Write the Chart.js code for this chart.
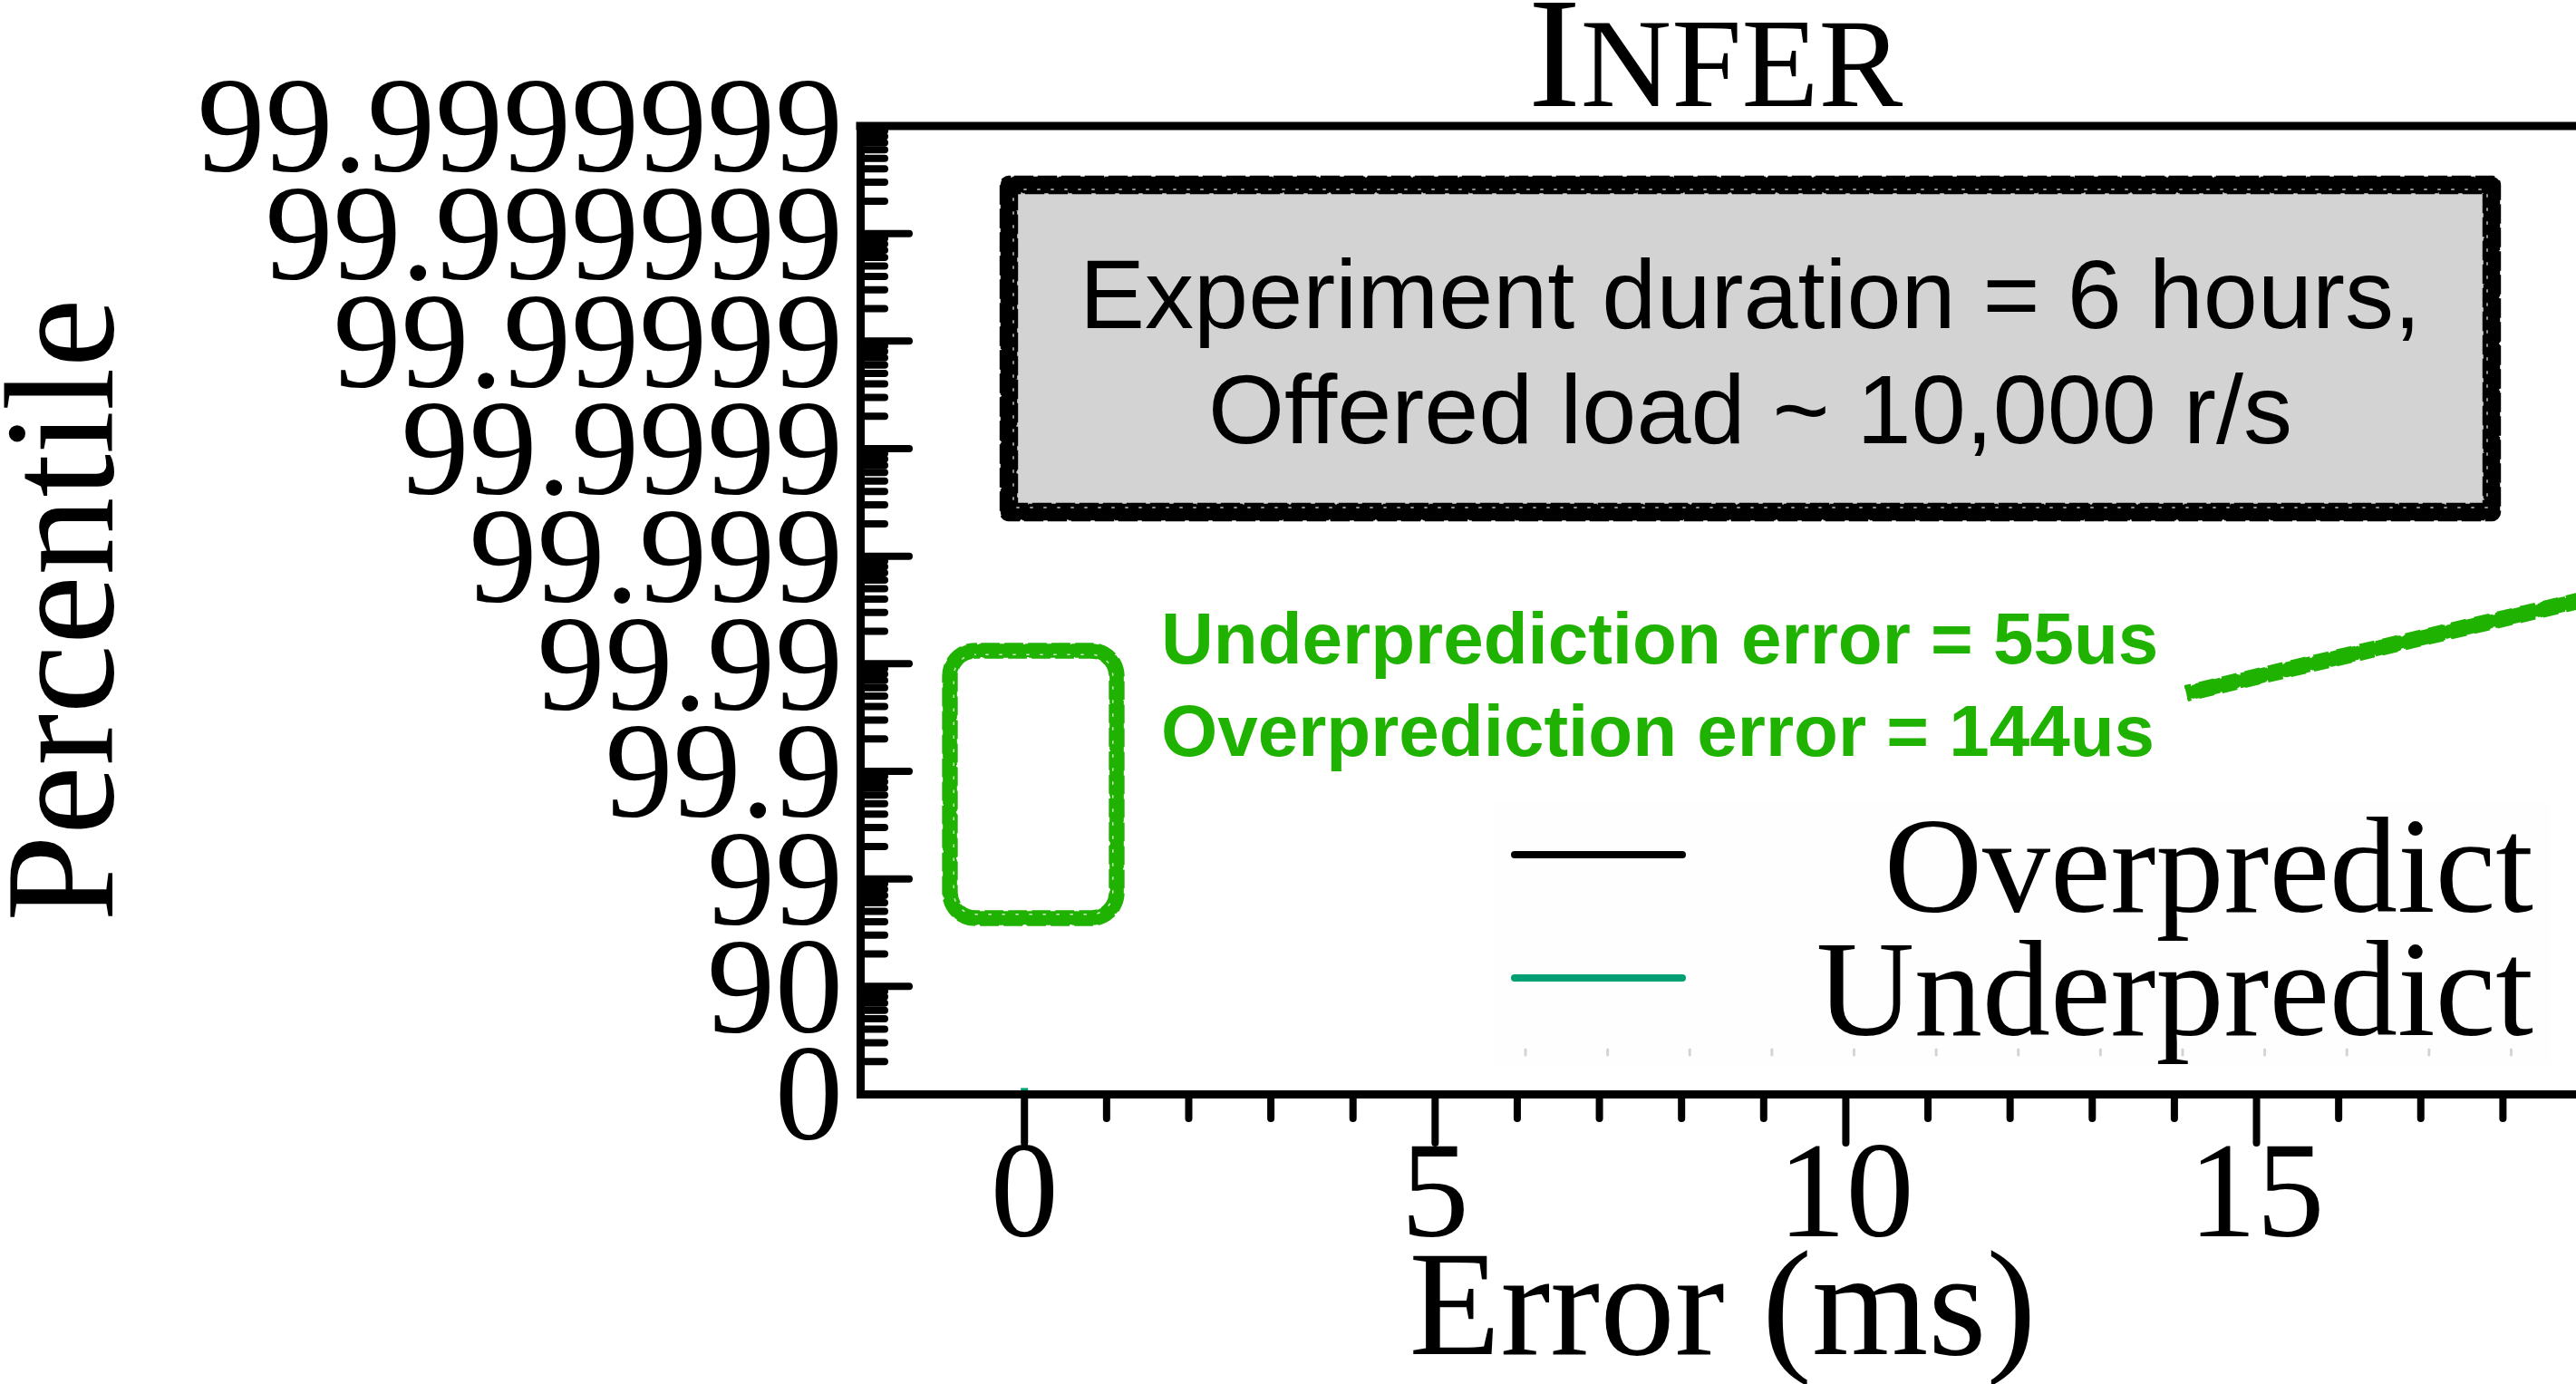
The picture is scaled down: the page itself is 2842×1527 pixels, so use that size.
<!DOCTYPE html>
<html>
<head>
<meta charset="utf-8">
<script src="https://cdn.jsdelivr.net/npm/chart.js@4.4.1/dist/chart.umd.min.js"></script>
<style>
  html, body { margin: 0; padding: 0; background: #fff; overflow: hidden; }
  #wrap { width: 2880px; height: 1560px; }
</style>
</head>
<body>
<div id="wrap"><canvas id="cdf" width="2880" height="1560"></canvas></div>
<script>
// Eixo y: percentis em escala log de 1/(1-p)
const pctLabels = ['0', '90', '99', '99.9', '99.99', '99.999', '99.9999', '99.99999', '99.999999', '99.9999999'];
const xMajorTicks = [0, 5, 10, 15];
const xTickLabels = ['0', '5', '10', '15'];

// Erros (ms) e percentis de cada série
const overErr = [0, 0];
const overPct = [0, 5];
const underErr = [0, 0];
const underPct = [0, 12];

const seriesNames = ['Overpredict', 'Underpredict'];
const seriesColors = ['#000000', '#009e73'];

const SERIF = '"Liberation Serif", "DejaVu Serif", serif';
const SANS = '"Liberation Sans", Arial, sans-serif';
const GREEN = '#20b200';

const toTail = p => 100 / (100 - p);

// ticks do eixo log: 1..9 em cada década + topo
const yTickValues = [];
for (let d = 0; d < pctLabels.length - 1; d++) {
  for (let m = 1; m <= 9; m++) yTickValues.push(m * Math.pow(10, d));
}
yTickValues.push(Math.pow(10, pctLabels.length - 1));

function decadeIndex(v) {
  const d = Math.log10(v);
  const r = Math.round(d);
  return Math.abs(d - r) < 1e-6 ? r : -1;
}

function rr(ctx, x, y, w, h, r) {
  ctx.beginPath();
  ctx.moveTo(x + r, y);
  ctx.arcTo(x + w, y, x + w, y + h, r);
  ctx.arcTo(x + w, y + h, x, y + h, r);
  ctx.arcTo(x, y + h, x, y, r);
  ctx.arcTo(x, y, x + w, y, r);
  ctx.closePath();
}

// contorno "desenhado à mão"
function roughRect(ctx, x, y, w, h, r, lw, color) {
  ctx.save();
  ctx.strokeStyle = color;
  ctx.lineJoin = 'round';
  ctx.lineWidth = lw * 0.7;
  rr(ctx, x, y, w, h, r);
  ctx.stroke();
  [-1, 1].forEach((side, i) => {
    for (let k = 0; k < 3; k++) {
      ctx.lineWidth = lw * 0.22;
      ctx.setLineDash([5 + k * 6, 3 + k * 3]);
      ctx.lineDashOffset = k * 7 + i * 4;
      const d = side * lw * (0.3 + k * 0.05);
      rr(ctx, x - d, y - d, w + 2 * d, h + 2 * d, Math.max(r + d, 0));
      ctx.stroke();
    }
  });
  ctx.strokeStyle = 'rgba(255,255,255,0.75)';
  ctx.lineWidth = 1.5;
  ctx.setLineDash([2, 13]);
  rr(ctx, x + lw * 0.25, y + lw * 0.25, w - lw * 0.5, h - lw * 0.5, Math.max(r - lw * 0.25, 0));
  ctx.stroke();
  ctx.restore();
}

function roughLine(ctx, x1, y1, x2, y2, lw, color) {
  const len = Math.hypot(x2 - x1, y2 - y1);
  const nx = -(y2 - y1) / len, ny = (x2 - x1) / len;
  ctx.save();
  ctx.strokeStyle = color;
  ctx.lineCap = 'butt';
  ctx.lineWidth = lw * 0.7;
  ctx.beginPath(); ctx.moveTo(x1, y1); ctx.lineTo(x2, y2); ctx.stroke();
  [-1, 1].forEach((side, i) => {
    for (let k = 0; k < 3; k++) {
      const d = side * lw * (0.3 + k * 0.05);
      ctx.lineWidth = lw * 0.22;
      ctx.setLineDash([5 + k * 6, 3 + k * 3]);
      ctx.lineDashOffset = k * 5 + i * 3;
      ctx.beginPath();
      ctx.moveTo(x1 + nx * d, y1 + ny * d);
      ctx.lineTo(x2 + nx * d, y2 + ny * d);
      ctx.stroke();
    }
  });
  ctx.restore();
}

// ticks, moldura, título, anotações e legenda
const decorPlugin = {
  id: 'decor',
  afterDraw(chart) {
    const { ctx, chartArea: a, scales: { x, y } } = chart;
    ctx.save();

    // ticks
    ctx.strokeStyle = '#000';
    ctx.lineWidth = 8;
    ctx.lineCap = 'round';
    y.ticks.forEach(t => {
      const py = y.getPixelForValue(t.value);
      const len = decadeIndex(t.value) >= 0 ? 54 : 27;
      ctx.beginPath(); ctx.moveTo(a.left, py); ctx.lineTo(a.left + len, py); ctx.stroke();
    });
    x.ticks.forEach(t => {
      if (t.value < 0) return;
      const px = x.getPixelForValue(t.value);
      const len = xMajorTicks.includes(t.value) ? 54 : 27;
      ctx.beginPath(); ctx.moveTo(px, a.bottom); ctx.lineTo(px, a.bottom + len); ctx.stroke();
    });

    // moldura superior / direita
    ctx.lineWidth = 9;
    ctx.lineCap = 'square';
    ctx.beginPath();
    ctx.moveTo(a.left, a.top); ctx.lineTo(a.right, a.top); ctx.lineTo(a.right, a.bottom);
    ctx.stroke();

    // título em versalete
    const cx = (a.left + a.right) / 2;
    ctx.fillStyle = '#000';
    ctx.textBaseline = 'alphabetic';
    ctx.textAlign = 'left';
    ctx.font = '174px ' + SERIF;
    const wI = ctx.measureText('I').width;
    ctx.font = '139px ' + SERIF;
    const wR = ctx.measureText('NFER').width;
    const tx = cx - (wI + wR) / 2 - 8;
    ctx.font = '174px ' + SERIF;
    ctx.fillText('I', tx, 117);
    ctx.font = '139px ' + SERIF;
    ctx.fillText('NFER', tx + wI, 117);

    // caixa cinza
    ctx.fillStyle = '#d3d3d3';
    ctx.fillRect(1110, 201, 1642, 367);
    roughRect(ctx, 1113, 204, 1636, 361, 0, 20, '#000');
    ctx.fillStyle = '#000';
    ctx.textAlign = 'center';
    ctx.font = '108px ' + SANS;
    ctx.fillText('Experiment duration = 6 hours,', 1931, 362);
    ctx.fillText('Offered load ~ 10,000 r/s', 1931, 489);

    // anotações verdes
    roughRect(ctx, 1048, 718, 184, 295, 28, 17, GREEN);
    roughLine(ctx, 2412, 765, 2870, 657, 18, GREEN);
    ctx.fillStyle = GREEN;
    ctx.textAlign = 'left';
    ctx.font = 'bold 80px ' + SANS;
    ctx.fillText('Underprediction error = 55us', 1281, 732);
    ctx.fillText('Overprediction error = 144us', 1281, 834);

    // legenda
    ctx.fillStyle = '#fefefe';
    ctx.fillRect(1647, 885, 1167, 290);
    ctx.strokeStyle = '#d4d4d4';
    ctx.lineWidth = 3;
    ctx.lineCap = 'round';
    for (let v = 6.1; v < 18.5; v += 1) {
      const px = x.getPixelForValue(v);
      ctx.beginPath(); ctx.moveTo(px, 1158); ctx.lineTo(px, 1164); ctx.stroke();
    }
    const legendY = [943, 1079];
    seriesNames.forEach((name, i) => {
      ctx.strokeStyle = seriesColors[i];
      ctx.lineWidth = 8;
      ctx.lineCap = 'round';
      ctx.beginPath(); ctx.moveTo(1671, legendY[i]); ctx.lineTo(1856, legendY[i]); ctx.stroke();
      ctx.fillStyle = '#000';
      ctx.textAlign = 'right';
      ctx.font = '150px ' + SERIF;
      ctx.fillText(name, 2795, legendY[i] + 63);
    });

    ctx.restore();
  }
};

Chart.defaults.font.family = SERIF;
Chart.defaults.color = '#000';

new Chart(document.getElementById('cdf'), {
  type: 'scatter',
  data: {
    datasets: [
      {
        label: seriesNames[0],
        data: overErr.map((e, i) => ({ x: e, y: toTail(overPct[i]) })),
        showLine: true,
        borderColor: seriesColors[0],
        borderWidth: 8,
        pointRadius: 0,
        order: 1
      },
      {
        label: seriesNames[1],
        data: underErr.map((e, i) => ({ x: e, y: toTail(underPct[i]) })),
        showLine: true,
        borderColor: seriesColors[1],
        borderWidth: 8,
        pointRadius: 0,
        order: 0
      }
    ]
  },
  options: {
    responsive: false,
    animation: false,
    layout: { padding: { left: 0, top: 139, right: 20, bottom: 0 } },
    plugins: { legend: { display: false }, tooltip: { enabled: false } },
    scales: {
      x: {
        type: 'linear',
        min: -2,
        max: 19,
        grid: { display: false, drawTicks: false },
        border: { display: true, color: '#000', width: 9, z: 1 },
        ticks: {
          stepSize: 1,
          autoSkip: false,
          maxRotation: 0,
          padding: 28,
          color: '#000',
          font: { family: SERIF, size: 150 },
          callback: v => {
            const i = xMajorTicks.indexOf(v);
            return i >= 0 ? xTickLabels[i] : '';
          }
        },
        title: {
          display: true,
          text: 'Error (ms)',
          color: '#000',
          font: { family: SERIF, size: 165, lineHeight: 1.2 },
          padding: { top: 0, bottom: 10 }
        },
        afterFit: s => { s.height = 353; }
      },
      y: {
        type: 'logarithmic',
        min: 1,
        max: Math.pow(10, pctLabels.length - 1),
        grid: { display: false, drawTicks: false },
        border: { display: true, color: '#000', width: 9, z: 1 },
        afterBuildTicks: s => { s.ticks = yTickValues.map(v => ({ value: v })); },
        ticks: {
          autoSkip: false,
          padding: 19,
          labelOffset: 11,
          color: '#000',
          font: { family: SERIF, size: 150 },
          callback: v => {
            const i = decadeIndex(v);
            return i >= 0 ? pctLabels[i] : '';
          }
        },
        title: {
          display: true,
          text: 'Percentile',
          color: '#000',
          font: { family: SERIF, size: 172, lineHeight: 0.92 },
          padding: 0
        },
        afterFit: s => { s.width = 949; }
      }
    }
  },
  plugins: [decorPlugin]
});
</script>
</body>
</html>
